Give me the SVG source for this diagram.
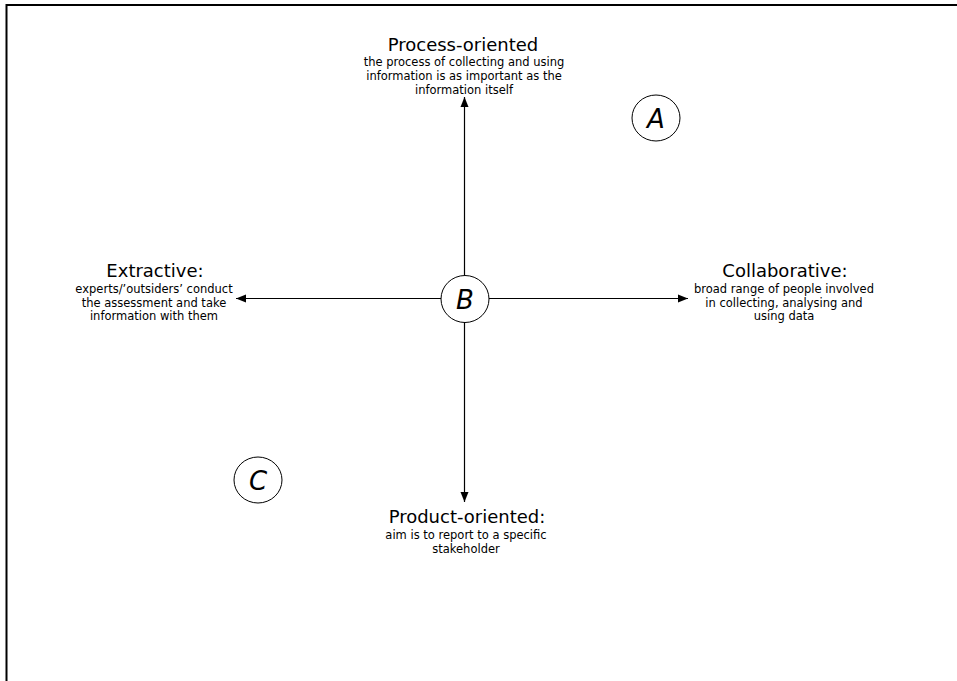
<svg xmlns="http://www.w3.org/2000/svg" width="957" height="681" viewBox="0 0 957 681">
<defs>
<marker id="ah" viewBox="0 0 10 10" refX="10" refY="5" markerWidth="10" markerHeight="10" markerUnits="userSpaceOnUse" orient="auto">
<path d="M0,1 L10,5 L0,9 Z" fill="#000"/>
</marker>
</defs>
<style>
.t{font-family:"Comic Sans MS","DejaVu Sans",sans-serif;font-size:18px;fill:#000;text-anchor:middle}
.s{font-family:"Comic Sans MS","DejaVu Sans",sans-serif;font-size:11.5px;fill:#000;text-anchor:middle}
.l{font-family:"Comic Sans MS","DejaVu Sans",sans-serif;font-size:26px;fill:#000;text-anchor:middle;font-style:italic}
.c{fill:#fff;stroke:#000;stroke-width:1}
.a{stroke:#000;stroke-width:1.2;fill:none;marker-end:url(#ah)}
</style>
<rect width="957" height="681" fill="#fff"/>
<path d="M6.5,681 V5 H957" fill="none" stroke="#000" stroke-width="2"/>
<g id="connectors">
<line class="a" x1="464.5" y1="275" x2="464.5" y2="97"/>
<line class="a" x1="464.5" y1="322" x2="464.5" y2="502"/>
<line class="a" x1="441" y1="298.5" x2="236" y2="298.5"/>
<line class="a" x1="489" y1="298.5" x2="688" y2="298.5"/>
</g>
<g id="process">
<text class="t" x="463" y="51">Process-oriented</text>
<text class="s" x="464" y="66">the process of collecting and using</text>
<text class="s" x="464" y="80">information is as important as the</text>
<text class="s" x="464" y="94">information itself</text>
</g>
<g id="extractive">
<text class="t" x="155" y="277">Extractive:</text>
<text class="s" x="154" y="293">experts/’outsiders’ conduct</text>
<text class="s" x="154" y="306.5">the assessment and  take</text>
<text class="s" x="154" y="320">information with them</text>
</g>
<g id="collaborative">
<text class="t" x="785" y="277">Collaborative:</text>
<text class="s" x="784" y="293">broad range of people involved</text>
<text class="s" x="784" y="306.5">in collecting, analysing and</text>
<text class="s" x="784" y="320">using data</text>
</g>
<g id="product">
<text class="t" x="467" y="523">Product-oriented:</text>
<text class="s" x="466" y="539">aim is to report to a specific</text>
<text class="s" x="466" y="553">stakeholder</text>
</g>
<g id="nodeA">
<ellipse class="c" cx="656" cy="118" rx="24" ry="23"/>
<text class="l" x="656" y="128">A</text>
</g>
<g id="nodeB">
<ellipse class="c" cx="465" cy="299" rx="24" ry="23.5"/>
<text class="l" x="465" y="309">B</text>
</g>
<g id="nodeC">
<ellipse class="c" cx="258" cy="480" rx="24" ry="23"/>
<text class="l" x="258" y="490">C</text>
</g>
</svg>
